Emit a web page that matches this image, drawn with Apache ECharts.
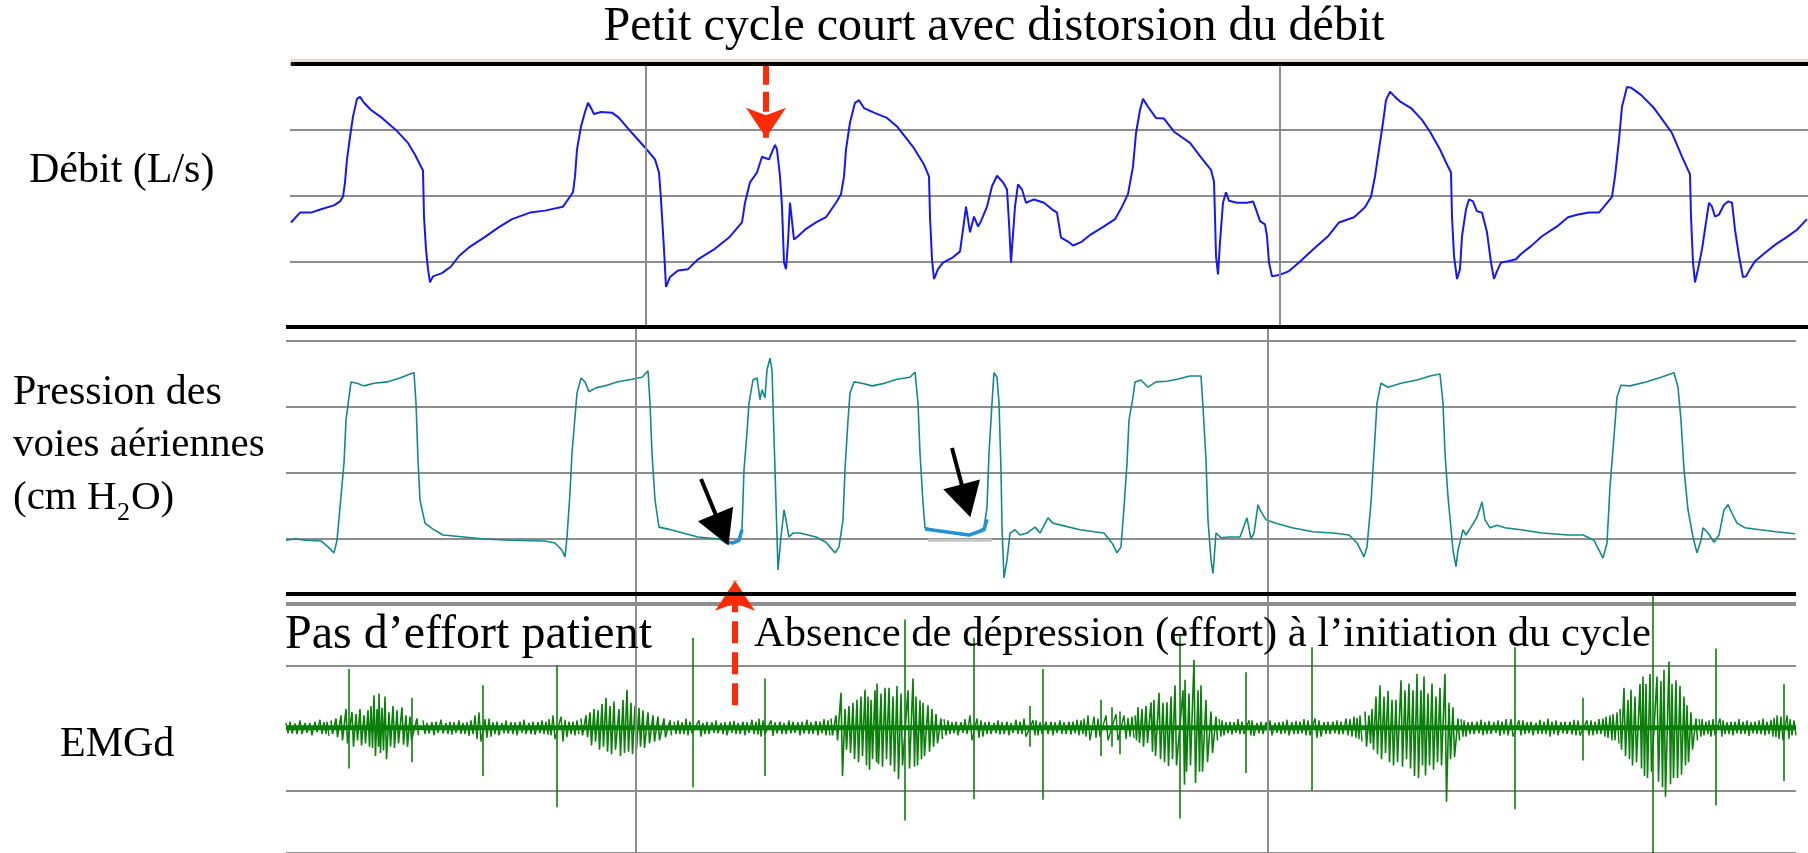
<!DOCTYPE html>
<html lang="fr">
<head>
<meta charset="utf-8">
<title>Petit cycle court avec distorsion du débit</title>
<script src="https://cdn.jsdelivr.net/npm/echarts@6/dist/echarts.min.js"></script>
<style>
  html, body { margin: 0; padding: 0; background: #ffffff; }
  #chart { width: 1808px; height: 853px; }
</style>
</head>
<body>
<div id="chart"></div>
<script>
// ---- Débit (L/s) : [échantillon, débit]
const flowTrace = [
  [1,-0.41],[10,-0.26],[21,-0.26],[31,-0.21],[44,-0.15],[50,-0.09],[53,-0.02],[55,0.20],[57,0.55],[60,0.89],[63,1.20],[67,1.47],[70,1.50],[74,1.41],[81,1.30],[92,1.18],[107,0.98],[118,0.80],[125,0.62],[133,0.38],[134,-0.32],[136,-0.82],[138,-1.12],[140,-1.32],[143,-1.23],[152,-1.18],[161,-1.08],[169,-0.92],[179,-0.79],[194,-0.64],[209,-0.48],[222,-0.36],[240,-0.26],[255,-0.23],[273,-0.17],[278,-0.06],[283,0.05],[285,0.29],[287,0.70],[291,1.05],[295,1.27],[298,1.41],[301,1.33],[304,1.24],[311,1.27],[322,1.26],[329,1.18],[342,0.95],[355,0.73],[365,0.55],[369,0.35],[371,-0.06],[374,-0.82],[376,-1.39],[380,-1.24],[388,-1.14],[398,-1.12],[408,-0.97],[424,-0.82],[439,-0.64],[452,-0.41],[455,-0.11],[460,0.20],[467,0.35],[472,0.59],[479,0.55],[485,0.77],[487,0.70],[490,0.29],[492,-0.17],[494,-1.02],[496,-1.12],[498,-0.71],[500,-0.11],[502,-0.09],[504,-0.67],[508,-0.62],[515,-0.52],[526,-0.41],[536,-0.33],[546,-0.11],[551,0.02],[554,0.29],[556,0.70],[560,1.11],[565,1.41],[569,1.45],[574,1.33],[584,1.26],[597,1.18],[607,1.05],[623,0.74],[634,0.47],[639,0.29],[640,-0.32],[642,-0.97],[644,-1.27],[648,-1.12],[653,-1.02],[663,-0.94],[670,-0.85],[674,-0.41],[676,-0.17],[680,-0.56],[684,-0.32],[688,-0.47],[691,-0.39],[697,-0.17],[702,0.14],[707,0.30],[713,0.20],[717,0.09],[719,-0.41],[721,-1.02],[725,-0.17],[728,0.17],[732,0.09],[736,-0.11],[744,-0.06],[754,-0.11],[762,-0.21],[767,-0.26],[771,-0.64],[778,-0.70],[783,-0.76],[791,-0.71],[801,-0.59],[814,-0.47],[825,-0.36],[832,-0.17],[838,0.02],[843,0.44],[846,0.95],[850,1.30],[853,1.47],[858,1.35],[866,1.18],[874,1.17],[884,0.97],[900,0.80],[911,0.58],[921,0.39],[924,0.21],[925,-0.32],[926,-0.92],[928,-1.20],[930,-0.71],[933,-0.11],[936,0.05],[939,-0.08],[947,-0.11],[957,-0.11],[963,-0.09],[966,-0.21],[970,-0.39],[975,-0.44],[977,-0.62],[979,-1.02],[982,-1.23],[991,-1.20],[999,-1.15],[1009,-1.02],[1023,-0.82],[1038,-0.62],[1049,-0.41],[1064,-0.33],[1075,-0.18],[1081,-0.02],[1085,0.29],[1089,0.70],[1093,1.11],[1096,1.45],[1100,1.58],[1105,1.50],[1111,1.42],[1121,1.33],[1132,1.15],[1140,0.97],[1150,0.70],[1158,0.44],[1161,0.35],[1162,-0.32],[1164,-0.92],[1167,-1.27],[1170,-1.12],[1172,-0.62],[1176,-0.21],[1179,-0.06],[1183,-0.09],[1187,-0.24],[1192,-0.26],[1197,-0.56],[1201,-1.02],[1204,-1.27],[1207,-1.15],[1211,-1.02],[1218,-1.00],[1226,-0.97],[1231,-0.89],[1241,-0.77],[1252,-0.62],[1267,-0.47],[1278,-0.33],[1288,-0.29],[1299,-0.26],[1309,-0.26],[1314,-0.17],[1322,-0.02],[1325,0.29],[1329,0.85],[1332,1.35],[1337,1.65],[1341,1.64],[1351,1.53],[1364,1.33],[1374,1.12],[1382,0.95],[1392,0.59],[1400,0.32],[1401,-0.32],[1403,-1.02],[1405,-1.32],[1408,-1.12],[1412,-0.82],[1416,-0.41],[1419,-0.11],[1422,-0.17],[1425,-0.32],[1429,-0.29],[1434,-0.14],[1438,-0.09],[1442,-0.11],[1445,-0.52],[1449,-0.92],[1453,-1.24],[1456,-1.23],[1460,-1.12],[1465,-1.00],[1476,-0.86],[1486,-0.74],[1496,-0.64],[1507,-0.52],[1517,-0.36]
];

// ---- Pression des voies aériennes (cm H2O) : [échantillon, pression]
const pressureTrace = [
  [0,-0.2],[9,0],[20,-0.2],[35,-0.3],[42,-1.2],[48,-2.1],[51,-0.2],[54,4.8],[58,11.5],[60,18.0],[63,21.5],[65,23.8],[71,23.6],[78,23.2],[88,23.6],[101,23.8],[114,24.4],[124,25.0],[128,25.2],[130,20.6],[132,12.0],[134,5.9],[139,2.4],[147,1.5],[157,0.6],[178,0.3],[198,0],[224,-0.2],[259,-0.3],[269,-0.6],[276,-1.7],[279,-2.7],[281,0.3],[284,7.0],[286,13.0],[289,18.5],[291,22.1],[295,24.4],[299,23.8],[303,22.3],[310,22.9],[321,23.3],[331,23.8],[346,24.2],[356,24.5],[362,25.5],[364,20.6],[366,13.0],[369,5.9],[373,1.8],[382,1.5],[397,0.9],[412,0.3],[433,0],[440,-0.5],[447,-0.6],[453,-0.2],[456,1.4],[458,10.5],[461,16.1],[463,20.6],[467,24.1],[471,24.4],[474,21.1],[476,22.6],[479,21.4],[481,25.6],[484,27.4],[486,25.6],[488,15.5],[490,5.5],[492,-4.7],[495,0.3],[498,4.4],[500,2.9],[503,0.3],[507,0.9],[514,0.9],[530,0.3],[540,-0.5],[549,-2.1],[553,-1.2],[557,2.9],[559,10.5],[562,18.0],[564,22.1],[568,23.8],[576,23.6],[586,23.2],[596,23.5],[611,24.2],[624,24.5],[629,25.3],[632,20.6],[634,13.0],[637,5.5],[639,1.7],[657,1.1],[678,0.6],[690,0.9],[698,1.7],[701,4.8],[703,13.0],[706,20.6],[708,25.2],[711,24.5],[713,20.6],[715,10.5],[716,1.8],[718,-5.9],[721,-3.2],[724,0.9],[729,1.4],[734,0.6],[741,0.9],[749,1.8],[754,0.9],[762,3.2],[767,2.4],[775,2.1],[794,1.4],[808,1.1],[818,0.9],[826,-0.6],[831,-2.1],[835,-1.2],[838,4.8],[841,11.5],[843,18.0],[847,21.5],[849,23.8],[855,24.1],[862,23.0],[870,23.8],[881,23.9],[891,24.2],[904,24.7],[915,24.7],[917,20.0],[920,12.0],[922,2.9],[925,-3.2],[927,-5.2],[930,0.9],[935,0.2],[943,0.3],[954,0.3],[961,3.2],[965,0],[968,0.9],[972,5.2],[974,4.4],[980,2.9],[990,2.4],[1006,1.7],[1027,1.1],[1047,0.9],[1063,0.6],[1071,-0.6],[1078,-2.7],[1081,-1.2],[1085,5.5],[1088,13.0],[1091,20.6],[1095,23.6],[1102,23.0],[1115,23.6],[1131,24.1],[1144,24.7],[1154,25.0],[1157,20.6],[1159,13.0],[1162,6.4],[1167,-1.7],[1170,-4.2],[1172,-1.7],[1177,1.4],[1180,0.6],[1185,1.8],[1191,3.3],[1196,5.6],[1199,2.9],[1204,1.7],[1211,2.1],[1219,1.7],[1235,1.4],[1256,0.9],[1282,0.6],[1297,0.6],[1308,-0.2],[1313,-1.7],[1317,-2.9],[1321,-0.6],[1324,7.9],[1328,15.5],[1331,21.5],[1335,23.3],[1344,23.2],[1360,23.8],[1375,24.5],[1388,25.2],[1392,23.0],[1395,18.0],[1398,10.5],[1402,4.4],[1407,0.3],[1411,-2.1],[1415,-0.2],[1417,1.7],[1422,0.9],[1428,-0.5],[1433,0.6],[1438,4.4],[1442,5.2],[1446,3.9],[1451,2.4],[1459,1.7],[1474,1.4],[1490,1.1],[1509,0.8]
];

// Portions de pression mises en évidence au déclenchement des cycles
const pressureMark1 = [[435,0.2],[440,-0.5],[447,-0.6],[453,-0.2],[456,1.4]];
const pressureMark2 = [[639,1.5],[683,0.6],[698,1.4],[701,3.0]];
const pressureRef2  = [[642,-0.2],[706,-0.2]];

// ---- EMGd (u.a.) : [échantillon, crête haute, crête basse]
const emgSpikes = [
  [63,0.94,-0.65],[126,0.48,-0.55],[197,0.68,-0.77],[271,1.0,-1.27],[407,1.44,-0.95],[479,0.79,-0.77],
  [688,1.44,-1.14],[744,0.35,-0.3],[757,0.94,-1.15],[815,0.45,-0.45],[826,0.33,-0.3],[834,0.26,-0.42],
  [960,0.89,-0.72],[1026,1.29,-1.0],[1229,1.29,-1.3],[1297,0.48,-0.52],[1430,1.27,-1.24],[1498,0.7,-0.85],
  [619,1.73,-1.48],[894,1.47,-1.45],[1367,2.15,-2.0]
];
// bouffées inspiratoires
const emgBursts = [
  [[45,0.12,-0.1],[50,0.15,-0.15],[55,0.2,-0.2],[60,0.3,-0.25],[66,0.25,-0.3],[70,0.22,-0.2],[74,0.3,-0.28],[78,0.2,-0.25],[82,0.28,-0.3],[85,0.35,-0.32],[88,0.52,-0.45],[91,0.3,-0.3],[93,0.55,-0.4],[96,0.32,-0.36],[99,0.5,-0.5],[103,0.25,-0.3],[107,0.35,-0.32],[111,0.28,-0.25],[116,0.33,-0.27],[120,0.2,-0.3],[124,0.18,-0.2],[131,0.15,-0.12]],
  [[295,0.15,-0.12],[300,0.2,-0.15],[304,0.25,-0.28],[308,0.3,-0.22],[312,0.28,-0.35],[316,0.38,-0.3],[320,0.48,-0.38],[324,0.35,-0.42],[328,0.42,-0.35],[333,0.3,-0.45],[337,0.45,-0.4],[341,0.61,-0.38],[345,0.4,-0.42],[349,0.35,-0.35],[353,0.32,-0.3],[357,0.28,-0.32],[362,0.25,-0.25],[367,0.2,-0.22],[372,0.18,-0.2],[378,0.15,-0.15],[384,0.12,-0.12]],
  [[545,0.15,-0.12],[550,0.2,-0.2],[555,0.56,-0.77],[559,0.3,-0.35],[563,0.35,-0.4],[567,0.4,-0.5],[571,0.45,-0.55],[575,0.5,-0.45],[579,0.61,-0.6],[582,0.5,-0.67],[585,0.45,-0.5],[589,0.6,-0.55],[591,0.71,-0.58],[595,0.55,-0.62],[599,0.64,-0.5],[603,0.64,-0.6],[607,0.5,-0.7],[611,0.67,-0.82],[615,0.55,-0.6],[622,0.6,-0.65],[627,0.79,-0.62],[630,0.5,-0.6],[634,0.44,-0.5],[637,0.4,-0.45],[642,0.36,-0.38],[646,0.3,-0.3],[650,0.22,-0.25],[655,0.15,-0.18]],
  [[849,0.2,-0.2],[852,0.33,-0.24],[856,0.3,-0.3],[860,0.35,-0.24],[865,0.41,-0.38],[868,0.45,-0.45],[873,0.56,-0.5],[877,0.4,-0.55],[881,0.41,-0.61],[885,0.5,-0.5],[889,0.68,-0.6],[897,0.6,-0.91],[899,0.77,-0.7],[903,0.55,-0.6],[908,1.09,-0.88],[912,0.6,-0.7],[915,0.68,-0.7],[920,0.45,-0.55],[925,0.26,-0.4],[930,0.18,-0.2]],
  [[1079,0.26,-0.3],[1083,0.2,-0.25],[1086,0.3,-0.35],[1090,0.5,-0.42],[1094,0.68,-0.5],[1098,0.5,-0.4],[1102,0.59,-0.55],[1106,0.45,-0.6],[1110,0.45,-0.55],[1115,0.76,-0.62],[1119,0.6,-0.5],[1123,0.71,-0.65],[1127,0.6,-0.77],[1131,0.86,-0.8],[1135,0.6,-0.6],[1138,0.82,-0.76],[1142,0.55,-0.6],[1146,0.71,-0.67],[1150,0.5,-0.55],[1154,0.64,-0.6],[1159,0.86,-1.18],[1163,0.4,-0.5],[1167,0.33,-0.47],[1172,0.15,-0.2]],
  [[1334,0.3,-0.35],[1338,0.64,-0.45],[1342,0.45,-0.5],[1345,0.61,-0.6],[1349,0.5,-0.55],[1354,0.7,-0.65],[1357,0.82,-0.77],[1360,0.7,-0.8],[1364,0.86,-0.7],[1371,0.82,-0.86],[1375,0.75,-0.95],[1378,0.93,-1.1],[1383,1.06,-0.9],[1386,0.7,-0.8],[1390,0.76,-0.8],[1394,0.67,-0.75],[1398,0.5,-0.6],[1401,0.36,-0.55],[1405,0.25,-0.35],[1410,0.15,-0.2]]
];
// activité de fond entre les bouffées
const emgNoise = [
  [[0,0.08,-0.09],[4,0.1,-0.09],[9,0.07,-0.1],[14,0.12,-0.1],[19,0.08,-0.08],[24,0.08,-0.12],[29,0.1,-0.07],[34,0.13,-0.1],[38,0.09,-0.1],[41,0.1,-0.13]],
  [[137,0.12,-0.1],[141,0.08,-0.09],[146,0.09,-0.12],[150,0.1,-0.08],[155,0.13,-0.09],[160,0.08,-0.1],[164,0.1,-0.11],[168,0.09,-0.08],[173,0.12,-0.1],[177,0.08,-0.1],[181,0.09,-0.13],[185,0.12,-0.1],[189,0.2,-0.18],[193,0.25,-0.22],[199,0.14,-0.16],[203,0.15,-0.14],[207,0.09,-0.1],[211,0.1,-0.12],[216,0.08,-0.09],[220,0.12,-0.09],[225,0.09,-0.1],[229,0.09,-0.12],[234,0.1,-0.08],[238,0.13,-0.1],[243,0.08,-0.1],[247,0.1,-0.11],[252,0.09,-0.09],[256,0.12,-0.1],[260,0.1,-0.11],[263,0.14,-0.12],[267,0.2,-0.18],[275,0.18,-0.22],[279,0.13,-0.15],[283,0.1,-0.1],[287,0.1,-0.12],[291,0.12,-0.1]],
  [[388,0.1,-0.1],[392,0.12,-0.1],[396,0.09,-0.1],[400,0.15,-0.12],[404,0.1,-0.09],[413,0.12,-0.14],[417,0.08,-0.1],[421,0.1,-0.1],[426,0.09,-0.08],[430,0.12,-0.09],[435,0.08,-0.1],[439,0.09,-0.12],[444,0.1,-0.08],[448,0.11,-0.1],[452,0.08,-0.1],[457,0.1,-0.12],[461,0.09,-0.08],[466,0.13,-0.1],[470,0.1,-0.11],[473,0.15,-0.14],[477,0.12,-0.1],[485,0.12,-0.13],[489,0.09,-0.09],[494,0.1,-0.1],[498,0.08,-0.1],[503,0.12,-0.09],[507,0.1,-0.08],[512,0.09,-0.12],[516,0.1,-0.09],[521,0.13,-0.1],[525,0.09,-0.1],[530,0.11,-0.12],[534,0.1,-0.09],[538,0.14,-0.12],[542,0.12,-0.12]],
  [[658,0.14,-0.12],[662,0.12,-0.1],[666,0.09,-0.09],[670,0.1,-0.12],[675,0.09,-0.08],[679,0.14,-0.1],[684,0.2,-0.2],[691,0.15,-0.16],[695,0.12,-0.14],[699,0.09,-0.1],[703,0.1,-0.1],[708,0.08,-0.09],[712,0.12,-0.11],[716,0.09,-0.1],[721,0.1,-0.12],[725,0.08,-0.08],[730,0.13,-0.1],[734,0.1,-0.1],[738,0.15,-0.14],[747,0.12,-0.12],[750,0.12,-0.12],[754,0.09,-0.1],[760,0.1,-0.1],[765,0.1,-0.12],[769,0.09,-0.08],[774,0.12,-0.1],[778,0.09,-0.1],[783,0.1,-0.11],[787,0.1,-0.09],[791,0.13,-0.12],[795,0.12,-0.1],[798,0.15,-0.14],[802,0.2,-0.2],[808,0.18,-0.16],[812,0.15,-0.14],[820,0.2,-0.2],[830,0.22,-0.2],[838,0.2,-0.18],[842,0.16,-0.14],[846,0.18,-0.16]],
  [[933,0.14,-0.14],[936,0.12,-0.12],[940,0.09,-0.09],[944,0.1,-0.11],[948,0.09,-0.08],[952,0.14,-0.1],[956,0.1,-0.1],[963,0.12,-0.12],[966,0.12,-0.13],[971,0.08,-0.09],[975,0.1,-0.1],[980,0.09,-0.1],[984,0.12,-0.12],[989,0.08,-0.08],[993,0.09,-0.1],[997,0.1,-0.09],[1001,0.13,-0.12],[1006,0.09,-0.1],[1010,0.11,-0.1],[1014,0.1,-0.09],[1018,0.14,-0.12],[1022,0.12,-0.12],[1029,0.15,-0.16],[1033,0.12,-0.14],[1038,0.09,-0.1],[1042,0.1,-0.1],[1047,0.1,-0.09],[1051,0.12,-0.11],[1055,0.1,-0.1],[1060,0.15,-0.12],[1064,0.14,-0.14],[1068,0.18,-0.16],[1071,0.16,-0.18],[1074,0.2,-0.22]],
  [[1175,0.14,-0.14],[1178,0.12,-0.14],[1182,0.09,-0.1],[1186,0.1,-0.1],[1191,0.1,-0.09],[1195,0.13,-0.12],[1199,0.09,-0.1],[1203,0.11,-0.1],[1208,0.09,-0.08],[1212,0.12,-0.13],[1216,0.1,-0.1],[1220,0.14,-0.12],[1225,0.14,-0.14],[1233,0.12,-0.12],[1237,0.12,-0.1],[1241,0.09,-0.09],[1245,0.1,-0.12],[1250,0.08,-0.1],[1254,0.13,-0.1],[1258,0.1,-0.1],[1262,0.15,-0.14],[1266,0.1,-0.1],[1270,0.12,-0.12],[1275,0.09,-0.09],[1279,0.1,-0.1],[1284,0.1,-0.11],[1288,0.13,-0.12],[1292,0.12,-0.12],[1301,0.12,-0.12],[1305,0.12,-0.12],[1309,0.1,-0.1],[1313,0.14,-0.1],[1317,0.15,-0.14],[1320,0.18,-0.16],[1324,0.2,-0.2],[1327,0.22,-0.2],[1331,0.25,-0.25]],
  [[1413,0.14,-0.14],[1416,0.14,-0.12],[1420,0.1,-0.1],[1423,0.12,-0.14],[1427,0.14,-0.12],[1434,0.15,-0.14],[1437,0.12,-0.1],[1441,0.09,-0.1],[1445,0.1,-0.12],[1449,0.1,-0.09],[1453,0.14,-0.1],[1457,0.1,-0.1],[1461,0.12,-0.13],[1465,0.09,-0.09],[1469,0.1,-0.1],[1473,0.12,-0.1],[1477,0.15,-0.12],[1481,0.1,-0.1],[1485,0.13,-0.14],[1488,0.16,-0.15],[1491,0.2,-0.18],[1495,0.18,-0.2],[1501,0.2,-0.18],[1504,0.14,-0.12],[1508,0.12,-0.12]]
];
const emgBaseline = [[0,0],[1510,0]];

// Repères verticaux (échantillons)
const flowMarkers = [356, 990];
const lowerMarkers = [350, 982];

// Étendues des axes
const flowRange = { min: -2, max: 2, step: 1 };
const pressureRange = { min: -10, max: 32.12, step: 10 };
const emgRange = { min: -2, max: 2.6667, step: 1 };
const flowSpan = 1518;
const lowerSpan = 1510;

// ---------------------------------------------------------------
const SERIF = '"Liberation Serif", "Times New Roman", serif';
const GRID_COLOR = '#8d8d8d';
const EMG_COLOR = '#0a7f0a';

function valueY(range, gridIndex, showMax) {
  return {
    type: 'value', gridIndex, min: range.min, max: range.max, interval: range.step,
    axisLine: { show: false }, axisTick: { show: false }, axisLabel: { show: false },
    splitLine: { show: true, showMaxLine: showMax, lineStyle: { color: GRID_COLOR, width: 2 } }
  };
}
function hiddenX(span, gridIndex) {
  return { type: 'value', gridIndex, min: 0, max: span, show: false, splitLine: { show: false } };
}
function vMarkers(list) {
  return {
    silent: true, symbol: 'none', animation: false, label: { show: false },
    lineStyle: { color: GRID_COLOR, width: 2, type: 'solid' },
    data: list.map(v => ({ xAxis: v }))
  };
}
// tracé en dents de scie : crête haute puis crête basse pour chaque échantillon
function zigzag(groups, step) {
  const out = [];
  groups.forEach(g => {
    g.forEach(([t, hi, lo]) => { out.push([t, hi]); out.push([t + step, lo]); });
    out.push(null);
  });
  return out;
}
function text(str, x, y, size, align) {
  return {
    type: 'text', x, y, z: 20,
    style: {
      text: str, font: size + 'px ' + SERIF, fill: '#000',
      textAlign: align || 'left', align: align || 'left',
      textVerticalAlign: 'middle', verticalAlign: 'middle'
    }
  };
}
function rule(x1, y1, x2, y2, color, w) {
  return { type: 'line', z: 30, shape: { x1, y1, x2, y2 }, style: { stroke: color, lineWidth: w } };
}

const stickRender = (params, api) => {
  const a = api.coord([api.value(0), api.value(1)]);
  const b = api.coord([api.value(0), api.value(2)]);
  return {
    type: 'line',
    shape: { x1: a[0], y1: a[1], x2: b[0], y2: b[1] },
    style: { stroke: EMG_COLOR, lineWidth: 1.6 }
  };
};

const chart = echarts.init(document.getElementById('chart'), null, { renderer: 'canvas' });
chart.setOption({
  animation: false,
  backgroundColor: '#ffffff',
  grid: [
    { left: 290, top: 64, width: 1518, height: 263 },
    { left: 286, top: 327, width: 1510, height: 278 },
    { left: 286, top: 561, width: 1510, height: 308 }
  ],
  xAxis: [hiddenX(flowSpan, 0), hiddenX(lowerSpan, 1), hiddenX(lowerSpan, 2)],
  yAxis: [
    valueY(flowRange, 0, true),
    valueY(pressureRange, 1, true),
    valueY(emgRange, 2, false)
  ],
  series: [
    {
      name: 'Débit', type: 'line', xAxisIndex: 0, yAxisIndex: 0, data: flowTrace,
      showSymbol: false, symbol: 'none', z: 3,
      lineStyle: { color: '#1717f2', width: 2 },
      markLine: vMarkers(flowMarkers)
    },
    {
      name: 'Pression', type: 'line', xAxisIndex: 1, yAxisIndex: 1, data: pressureTrace,
      showSymbol: false, symbol: 'none', z: 3,
      lineStyle: { color: '#13898b', width: 1.6 },
      markLine: vMarkers(lowerMarkers)
    },
    {
      name: 'Référence', type: 'line', xAxisIndex: 1, yAxisIndex: 1, data: pressureRef2,
      showSymbol: false, symbol: 'none', z: 3, lineStyle: { color: '#c4c4c4', width: 3 }
    },
    {
      name: 'Déclenchement 1', type: 'line', xAxisIndex: 1, yAxisIndex: 1, data: pressureMark1,
      showSymbol: false, symbol: 'none', z: 4, lineStyle: { color: '#1f93d4', width: 3.5 }
    },
    {
      name: 'Déclenchement 2', type: 'line', xAxisIndex: 1, yAxisIndex: 1, data: pressureMark2,
      showSymbol: false, symbol: 'none', z: 4, lineStyle: { color: '#1f93d4', width: 3.5 }
    },
    {
      name: 'EMGd ligne', type: 'line', xAxisIndex: 2, yAxisIndex: 2, data: emgBaseline,
      showSymbol: false, symbol: 'none', z: 3, lineStyle: { color: EMG_COLOR, width: 5 },
      markLine: vMarkers(lowerMarkers)
    },
    {
      name: 'EMGd fond', type: 'line', xAxisIndex: 2, yAxisIndex: 2, data: zigzag(emgNoise, 2),
      showSymbol: false, symbol: 'none', connectNulls: false, z: 4,
      lineStyle: { color: EMG_COLOR, width: 1.4 }
    },
    {
      name: 'EMGd bouffées', type: 'line', xAxisIndex: 2, yAxisIndex: 2, data: zigzag(emgBursts, 1.5),
      showSymbol: false, symbol: 'none', connectNulls: false, z: 4,
      lineStyle: { color: EMG_COLOR, width: 1.6 }
    },
    {
      name: 'EMGd pics', type: 'custom', xAxisIndex: 2, yAxisIndex: 2, z: 4,
      data: emgSpikes,
      encode: { x: 0, y: [1, 2] },
      renderItem: stickRender
    },
    // flèche rouge : cycle court (débit)
    {
      type: 'line', xAxisIndex: 0, yAxisIndex: 0, data: [], clip: false, z: 10,
      markLine: {
        silent: true, animation: false, label: { show: false },
        lineStyle: { color: '#ff2b06', width: 6, type: [20, 7] },
        data: [[
          { coord: [476, 1.99], symbol: 'none' },
          { coord: [476, 0.88], symbol: 'arrow', symbolSize: [30, 30] }
        ]]
      }
    },
    // flèches noires : déclenchement sans dépression
    {
      type: 'line', xAxisIndex: 1, yAxisIndex: 1, data: [], clip: false, z: 10,
      markLine: {
        silent: true, animation: false, label: { show: false },
        lineStyle: { color: '#000000', width: 4, type: 'solid' },
        data: [
          [{ coord: [415, 9.1], symbol: 'none' }, { coord: [436, 1.4], symbol: 'triangle', symbolSize: [38, 34] }],
          [{ coord: [666, 13.8], symbol: 'none' }, { coord: [680, 5.8], symbol: 'triangle', symbolSize: [38, 34] }]
        ]
      }
    },
    // flèche rouge : absence d'effort
    {
      type: 'line', xAxisIndex: 2, yAxisIndex: 2, data: [], clip: false, z: 10,
      markLine: {
        silent: true, animation: false, label: { show: false },
        lineStyle: { color: '#ff2b06', width: 6, type: [22, 9] },
        data: [[
          { coord: [449, 0.36], symbol: 'none' },
          { coord: [449, 2.35], symbol: 'arrow', symbolSize: [30, 30] }
        ]]
      }
    }
  ],
  graphic: [
    rule(291, 60.5, 1808, 60.5, '#e3dfcc', 3),
    rule(291, 64, 1808, 64, '#000000', 4),
    rule(286, 327, 1808, 327, '#000000', 4),
    rule(286, 594, 1796, 594, '#000000', 4),
    text('Petit cycle court avec distorsion du débit', 994, 27, 48, 'center'),
    text('Débit (L/s)', 29, 171, 42),
    text('Pression des', 13, 393, 42),
    text('voies aériennes', 13, 445, 41),
    text('(cm H', 13, 498, 41),
    text('2', 117, 513, 26),
    text('O)', 131, 498, 41),
    text('EMGd', 60, 745, 42),
    text('Pas d’effort patient', 285, 635, 48),
    text('Absence de dépression (effort) à l’initiation du cycle', 754, 635, 42.6)
  ]
});
</script>
</body>
</html>
